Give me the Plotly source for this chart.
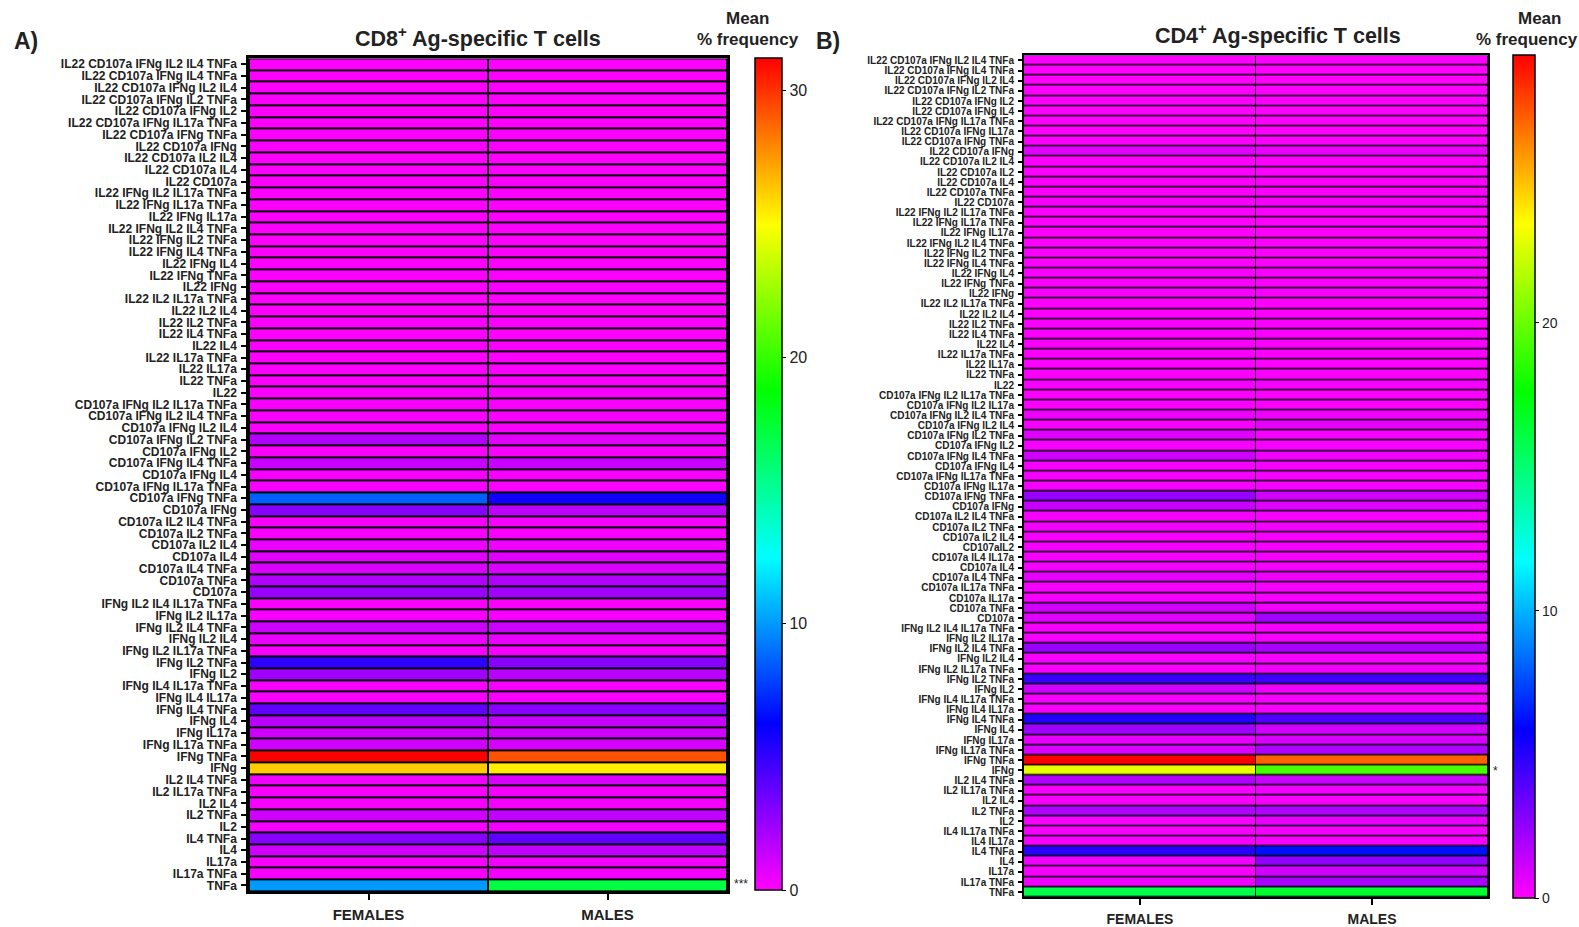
import plotly.graph_objects as go

W, H = 1579, 927
FONT = "Liberation Sans, Arial, sans-serif"

groups = ["FEMALES", "MALES"]

# ---------------- CD8+ panel ----------------
cd8_labels = [
    "IL22 CD107a IFNg IL2 IL4 TNFa", "IL22 CD107a IFNg IL4 TNFa", "IL22 CD107a IFNg IL2 IL4",
    "IL22 CD107a IFNg IL2 TNFa", "IL22 CD107a IFNg IL2", "IL22 CD107a IFNg IL17a TNFa",
    "IL22 CD107a IFNg TNFa", "IL22 CD107a IFNg", "IL22 CD107a IL2 IL4", "IL22 CD107a IL4",
    "IL22 CD107a", "IL22 IFNg IL2 IL17a TNFa", "IL22 IFNg IL17a TNFa", "IL22 IFNg IL17a",
    "IL22 IFNg IL2 IL4 TNFa", "IL22 IFNg IL2 TNFa", "IL22 IFNg IL4 TNFa", "IL22 IFNg IL4",
    "IL22 IFNg TNFa", "IL22 IFNg", "IL22 IL2 IL17a TNFa", "IL22 IL2 IL4", "IL22 IL2 TNFa",
    "IL22 IL4 TNFa", "IL22 IL4", "IL22 IL17a TNFa", "IL22 IL17a", "IL22 TNFa", "IL22",
    "CD107a IFNg IL2 IL17a TNFa", "CD107a IFNg IL2 IL4 TNFa", "CD107a IFNg IL2 IL4",
    "CD107a IFNg IL2 TNFa", "CD107a IFNg IL2", "CD107a IFNg IL4 TNFa", "CD107a IFNg IL4",
    "CD107a IFNg IL17a TNFa", "CD107a IFNg TNFa", "CD107a IFNg", "CD107a IL2 IL4 TNFa",
    "CD107a IL2 TNFa", "CD107a IL2 IL4", "CD107a IL4", "CD107a IL4 TNFa", "CD107a TNFa",
    "CD107a", "IFNg IL2 IL4 IL17a TNFa", "IFNg IL2 IL17a", "IFNg IL2 IL4 TNFa", "IFNg IL2 IL4",
    "IFNg IL2 IL17a TNFa", "IFNg IL2 TNFa", "IFNg IL2", "IFNg IL4 IL17a TNFa", "IFNg IL4 IL17a",
    "IFNg IL4 TNFa", "IFNg IL4", "IFNg IL17a", "IFNg IL17a TNFa", "IFNg TNFa", "IFNg",
    "IL2 IL4 TNFa", "IL2 IL17a TNFa", "IL2 IL4", "IL2 TNFa", "IL2", "IL4 TNFa", "IL4",
    "IL17a", "IL17a TNFa", "TNFa",
]
cd8_females = [
    0.05, 0.05, 0.05, 0.08, 0.06, 0.05, 0.10, 0.12, 0.05, 0.06,
    0.10, 0.05, 0.05, 0.06, 0.05, 0.06, 0.05, 0.06, 0.08, 0.15,
    0.05, 0.05, 0.08, 0.06, 0.08, 0.06, 0.08, 0.10, 0.15,
    0.25, 0.15, 0.15, 1.90, 0.15, 1.35, 0.20, 0.20, 8.60, 2.90,
    0.20, 0.20, 0.50, 0.70, 0.90, 1.90, 2.50,
    0.15, 0.20, 1.25, 0.50, 0.20, 5.10, 2.30, 0.20, 0.20, 3.90,
    1.70, 1.15, 1.15, 31.2, 26.2,
    0.40, 0.20, 0.20, 1.15, 0.20, 2.90, 1.15, 0.20, 0.20, 10.0,
]
cd8_males = [
    0.05, 0.05, 0.05, 0.06, 0.06, 0.05, 0.10, 0.15, 0.05, 0.06,
    0.12, 0.05, 0.05, 0.06, 0.05, 0.06, 0.05, 0.06, 0.08, 0.18,
    0.05, 0.05, 0.08, 0.06, 0.08, 0.06, 0.08, 0.12, 0.18,
    0.20, 0.20, 0.15, 0.70, 0.15, 1.35, 0.20, 0.15, 5.80, 1.60,
    0.20, 0.20, 0.40, 0.70, 0.90, 1.90, 2.30,
    0.15, 0.20, 1.25, 0.50, 0.20, 2.90, 1.70, 0.20, 0.20, 2.90,
    1.35, 1.10, 1.00, 29.2, 25.4,
    0.90, 0.30, 0.30, 1.50, 0.30, 3.90, 1.50, 0.30, 0.30, 17.1,
]

# ---------------- CD4+ panel ----------------
cd4_labels = [
    "IL22 CD107a IFNg IL2 IL4 TNFa", "IL22 CD107a IFNg IL4 TNFa", "IL22 CD107a IFNg IL2 IL4",
    "IL22 CD107a IFNg IL2 TNFa", "IL22 CD107a IFNg IL2", "IL22 CD107a IFNg IL4",
    "IL22 CD107a IFNg IL17a TNFa", "IL22 CD107a IFNg IL17a", "IL22 CD107a IFNg TNFa",
    "IL22 CD107a IFNg", "IL22 CD107a IL2 IL4", "IL22 CD107a IL2", "IL22 CD107a IL4",
    "IL22 CD107a TNFa", "IL22 CD107a", "IL22 IFNg IL2 IL17a TNFa", "IL22 IFNg IL17a TNFa",
    "IL22 IFNg IL17a", "IL22 IFNg IL2 IL4 TNFa", "IL22 IFNg IL2 TNFa", "IL22 IFNg IL4 TNFa",
    "IL22 IFNg IL4", "IL22 IFNg TNFa", "IL22 IFNg", "IL22 IL2 IL17a TNFa", "IL22 IL2 IL4",
    "IL22 IL2 TNFa", "IL22 IL4 TNFa", "IL22 IL4", "IL22 IL17a TNFa", "IL22 IL17a",
    "IL22 TNFa", "IL22", "CD107a IFNg IL2 IL17a TNFa", "CD107a IFNg IL2 IL17a",
    "CD107a IFNg IL2 IL4 TNFa", "CD107a IFNg IL2 IL4", "CD107a IFNg IL2 TNFa", "CD107a IFNg IL2",
    "CD107a IFNg IL4 TNFa", "CD107a IFNg IL4", "CD107a IFNg IL17a TNFa", "CD107a IFNg IL17a",
    "CD107a IFNg TNFa", "CD107a IFNg", "CD107a IL2 IL4 TNFa", "CD107a IL2 TNFa",
    "CD107a IL2 IL4", "CD107aIL2", "CD107a IL4 IL17a", "CD107a IL4", "CD107a IL4 TNFa",
    "CD107a IL17a TNFa", "CD107a IL17a", "CD107a TNFa", "CD107a", "IFNg IL2 IL4 IL17a TNFa",
    "IFNg IL2 IL17a", "IFNg IL2 IL4 TNFa", "IFNg IL2 IL4", "IFNg IL2 IL17a TNFa",
    "IFNg IL2 TNFa", "IFNg IL2", "IFNg IL4 IL17a TNFa", "IFNg IL4 IL17a", "IFNg IL4 TNFa",
    "IFNg IL4", "IFNg IL17a", "IFNg IL17a TNFa", "IFNg TNFa", "IFNg", "IL2 IL4 TNFa",
    "IL2 IL17a TNFa", "IL2 IL4", "IL2 TNFa", "IL2", "IL4 IL17a TNFa", "IL4 IL17a", "IL4 TNFa",
    "IL4", "IL17a", "IL17a TNFa", "TNFa",
]
cd4_females = [
    0.05, 0.05, 0.05, 0.06, 0.06, 0.05, 0.05, 0.05, 0.10, 0.70,
    0.05, 0.06, 0.06, 0.10, 0.15, 0.05, 0.05, 0.05, 0.05, 0.06,
    0.05, 0.06, 0.08, 0.15, 0.05, 0.05, 0.08, 0.06, 0.08, 0.06,
    0.06, 0.10, 0.15, 0.10, 0.10, 0.40, 0.20, 0.71, 0.20, 1.08,
    0.20, 0.20, 0.20, 2.36, 1.26, 0.20, 0.20, 0.20, 0.20, 0.20,
    0.20, 0.53, 0.20, 0.20, 1.08, 0.71, 0.20, 0.20, 2.36, 0.20,
    0.20, 4.60, 1.08, 0.20, 0.20, 5.12, 2.18, 0.53, 0.90, 29.3,
    22.9, 1.81, 0.20, 0.20, 1.81, 0.20, 0.20, 0.20, 4.94, 0.34,
    0.20, 0.34, 16.0,
]
cd4_males = [
    0.05, 0.05, 0.05, 0.06, 0.06, 0.05, 0.05, 0.05, 0.10, 0.45,
    0.05, 0.06, 0.06, 0.10, 0.15, 0.05, 0.05, 0.05, 0.05, 0.06,
    0.05, 0.06, 0.08, 0.15, 0.05, 0.05, 0.08, 0.06, 0.08, 0.06,
    0.06, 0.10, 0.15, 0.10, 0.10, 0.30, 0.53, 0.20, 0.20, 0.34,
    0.20, 0.20, 0.20, 1.08, 0.71, 0.20, 0.20, 0.20, 0.20, 0.20,
    0.20, 0.34, 0.20, 0.20, 0.34, 2.18, 0.20, 0.20, 1.98, 0.20,
    0.34, 4.40, 0.34, 0.20, 0.20, 4.02, 1.08, 0.90, 1.81, 27.1,
    19.2, 1.26, 0.34, 0.20, 1.81, 0.53, 0.20, 0.20, 6.23, 2.55,
    1.08, 1.98, 16.5,
]

# magenta -> blue -> cyan -> green -> yellow -> red
rainbow = [
    [0.0, "#ff00ff"], [0.2, "#0000ff"], [0.4, "#00ffff"],
    [0.6, "#00ff00"], [0.8, "#ffff00"], [1.0, "#ff0000"],
]


def px_x(x):
    return x / W


def px_y(y):
    return 1 - y / H


def matrix(a, b):
    return [[u, v] for u, v in zip(a, b)]


fig = go.Figure()

fig.add_trace(go.Heatmap(
    z=matrix(cd8_females, cd8_males), x=groups, y=cd8_labels,
    colorscale=rainbow, zmin=0, zmax=max(cd8_females + cd8_males),
    xgap=2, ygap=2, xaxis="x", yaxis="y",
    colorbar=dict(
        x=px_x(755), xanchor="left", xpad=0, ypad=0,
        y=px_y((58 + 899) / 2), yanchor="middle", len=(899 - 58) / H,
        thickness=27, outlinewidth=1.5, outlinecolor="black",
        tickvals=[0, 10, 20, 30], ticks="outside", ticklen=4, tickcolor="black",
        tickfont=dict(family=FONT, size=16, color="#222"),
    ),
))

fig.add_trace(go.Heatmap(
    z=matrix(cd4_females, cd4_males), x=groups, y=cd4_labels,
    colorscale=rainbow, zmin=0, zmax=max(cd4_females + cd4_males),
    xgap=1, ygap=1.5, xaxis="x2", yaxis="y2",
    colorbar=dict(
        x=px_x(1513), xanchor="left", xpad=0, ypad=0,
        y=px_y((55 + 907) / 2), yanchor="middle", len=(907 - 55) / H,
        thickness=22, outlinewidth=1.5, outlinecolor="black",
        tickvals=[0, 10, 20], ticks="outside", ticklen=4, tickcolor="black",
        tickfont=dict(family=FONT, size=14, color="#222"),
    ),
))

axis_common = dict(showline=True, mirror=True, linecolor="black", showgrid=False,
                   zeroline=False, ticks="outside", tickcolor="black", fixedrange=True)

fig.update_layout(
    width=W, height=H, autosize=False,
    margin=dict(l=0, r=0, t=0, b=0),
    paper_bgcolor="white", plot_bgcolor="black",
    font=dict(family=FONT, color="#222"),
    xaxis=dict(domain=[px_x(249), px_x(727)], anchor="y", linewidth=2.5,
               ticklen=6, tickwidth=2, ticklabelstandoff=2,
               tickfont=dict(family=FONT, size=15, color="#222", weight="bold"),
               **axis_common),
    yaxis=dict(domain=[px_y(900), px_y(58)], anchor="x", linewidth=2.5,
               autorange="reversed", ticklen=5, tickwidth=2, ticklabelstandoff=2,
               tickmode="array", tickvals=cd8_labels, ticktext=cd8_labels,
               categoryorder="array", categoryarray=cd8_labels,
               tickfont=dict(family=FONT, size=12, color="#222", weight="bold"),
               **axis_common),
    xaxis2=dict(domain=[px_x(1024), px_x(1488)], anchor="y2", linewidth=2,
                ticklen=6, tickwidth=2, ticklabelstandoff=2,
                tickfont=dict(family=FONT, size=14, color="#222", weight="bold"),
                **axis_common),
    yaxis2=dict(domain=[px_y(906), px_y(55)], anchor="x2", linewidth=2,
                autorange="reversed", ticklen=4, tickwidth=1.5, ticklabelstandoff=2,
                tickmode="array", tickvals=cd4_labels, ticktext=cd4_labels,
                categoryorder="array", categoryarray=cd4_labels,
                tickfont=dict(family=FONT, size=10, color="#222", weight="bold"),
                **axis_common),
)


def label(text, x, y, size, bold=True, xanchor="center"):
    fig.add_annotation(
        text=f"<b>{text}</b>" if bold else text,
        x=px_x(x), y=px_y(y), xref="paper", yref="paper",
        xanchor=xanchor, yanchor="middle", showarrow=False,
        font=dict(family=FONT, size=size, color="#222"),
    )


label("A)", 12, 40, 23, xanchor="left")
label("B)", 814, 40, 23, xanchor="left")
label("CD8<sup>+</sup> Ag-specific T cells", 478, 36, 21.5)
label("CD4<sup>+</sup> Ag-specific T cells", 1278, 33, 21.5)
label("Mean", 747, 18, 17)
label("% frequency", 748, 39, 17)
label("Mean", 1539, 18, 17)
label("% frequency", 1527, 39, 17)
label("***", 741, 893, 12, bold=False)
label("*", 1495, 778, 12, bold=False)

fig.write_html("out.html")
